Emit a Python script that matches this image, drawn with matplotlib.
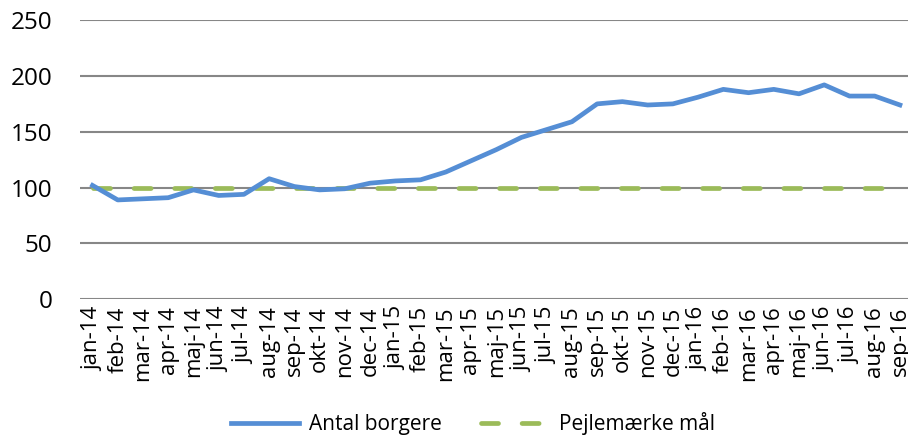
import matplotlib.pyplot as plt

months = ['jan-14', 'feb-14', 'mar-14', 'apr-14', 'maj-14', 'jun-14', 'jul-14', 'aug-14', 'sep-14',
          'okt-14', 'nov-14', 'dec-14', 'jan-15', 'feb-15', 'mar-15', 'apr-15', 'maj-15', 'jun-15',
          'jul-15', 'aug-15', 'sep-15', 'okt-15', 'nov-15', 'dec-15', 'jan-16', 'feb-16', 'mar-16',
          'apr-16', 'maj-16', 'jun-16', 'jul-16', 'aug-16', 'sep-16']
borgere = [102, 89, 90, 91, 98, 93, 94, 108, 101, 98, 99, 104, 106, 107, 114, 124, 134, 145,
           152, 159, 175, 177, 174, 175, 181, 188, 185, 188, 184, 192, 182, 182, 174]
maal = [100] * len(months)

plt.rcParams['font.family'] = ['Open Sans', 'DejaVu Sans']

fig = plt.figure(figsize=(9.08, 4.37), dpi=100)
ax = fig.add_axes([0.088, 0.315, 0.917, 0.639])

x = list(range(len(months)))
ax.plot(x, borgere, color='#558ED5', linewidth=3.4, label='Antal borgere', zorder=3,
        solid_joinstyle='round')
ax.plot(x, maal, color='#9BBB59', linewidth=3.4, dashes=(3.6, 5.0), dash_capstyle='round',
        label='Pejlemærke mål', zorder=2)

ax.set_ylim(0, 250)
ax.set_yticks(range(0, 251, 50))
ax.set_xlim(-0.5, len(months) - 0.5)
ax.set_xticks(x)
ax.set_xticklabels(months, rotation=90)
ax.tick_params(length=0)
ax.tick_params(axis='y', pad=20, labelsize=17.5)
ax.tick_params(axis='x', pad=5, labelsize=16)
ax.grid(axis='y', color='#878787', linewidth=1.5)
ax.set_axisbelow(True)
for s in ax.spines.values():
    s.set_visible(False)

fig.legend(loc='center', bbox_to_anchor=(0.521, 0.03), ncol=2, frameon=False,
           fontsize=15, handlelength=3.3, handletextpad=0.45, columnspacing=1.9)

fig.savefig('out.png', dpi=100)
